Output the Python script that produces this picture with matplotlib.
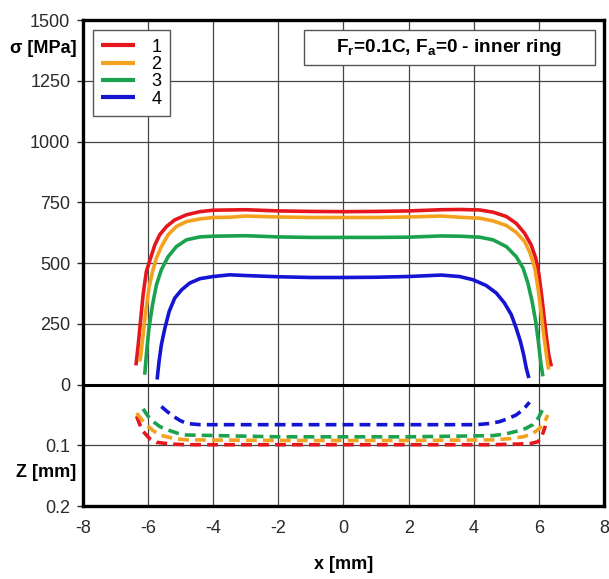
import matplotlib
matplotlib.use("Agg")
import matplotlib.pyplot as plt
from matplotlib.patches import Rectangle
import numpy as np

plt.rcParams['font.family'] = ['Liberation Sans', 'DejaVu Sans']

# stress along the contact, sigma [MPa]
x1 = [-6.37, -6.30, -6.23, -6.15, -6.05, -5.92, -5.79, -5.64, -5.43, -5.18, -4.82, -4.41, -4.0, -3.49,
      -3.0, -2.0, -1.0, 0.0, 1.0, 2.0, 3.0, 3.56, 4.18, 4.59, 5.0, 5.30, 5.56, 5.76, 5.90, 6.00, 6.08,
      6.15, 6.22, 6.30, 6.38]
s1 = [79, 164, 260, 370, 466, 521, 575, 617, 651, 678, 699, 712, 718, 719,
      720, 715, 713, 712, 713, 715, 720, 721, 719, 710, 692, 664, 623, 575, 521, 452, 370,
      288, 206, 123, 75]
x2 = [-6.25, -6.23, -6.15, -6.07, -5.97, -5.86, -5.74, -5.59, -5.38, -5.13, -4.82, -4.41, -4.0, -3.49,
      -3.0, -2.0, -1.0, 0.0, 1.0, 2.0, 3.0, 3.56, 4.18, 4.59, 5.0, 5.30, 5.56, 5.73, 5.87, 5.97, 6.05,
      6.12, 6.20, 6.27, 6.30]
s2 = [95, 110, 205, 301, 397, 466, 521, 568, 617, 651, 671, 682, 688, 689,
      694, 690, 688, 688, 688, 690, 694, 689, 685, 674, 655, 627, 589, 541, 480, 397, 315,
      233, 151, 82, 62]
x3 = [-6.10, -6.05, -5.97, -5.86, -5.74, -5.59, -5.38, -5.13, -4.82, -4.41, -4.0, -3.49,
      -3.0, -2.0, -1.0, 0.0, 1.0, 2.0, 3.0, 3.56, 4.18, 4.59, 5.0, 5.30, 5.51, 5.66, 5.79, 5.90, 5.98,
      6.05, 6.12]
s3 = [41, 123, 233, 329, 411, 473, 527, 568, 596, 608, 611, 612,
      613, 608, 606, 606, 606, 607, 612, 611, 607, 596, 568, 527, 480, 418, 342, 260, 178,
      96, 34]
x4 = [-5.72, -5.66, -5.59, -5.48, -5.35, -5.18, -4.97, -4.72, -4.41, -4.0, -3.49, -3.0,
      -2.0, -1.0, 0.0, 1.0, 2.0, 3.0, 3.56, 3.97, 4.38, 4.69, 4.94, 5.15, 5.30, 5.43, 5.53, 5.61, 5.69]
s4 = [21, 96, 164, 233, 301, 356, 390, 418, 436, 445, 452, 449,
      444, 441, 441, 442, 445, 451, 445, 432, 408, 377, 336, 288, 233, 178, 123, 68, 27]

# depth of the maximum stress, Z [mm]
zx1 = [-6.35, -6.25, -6.15, -5.95, -5.74, -5.3, -4.82, -2.0, 0.0, 2.0, 4.59, 5.3, 5.75, 5.97, 6.1, 6.2]
z1 = [0.052, 0.066, 0.077, 0.089, 0.095, 0.098, 0.099, 0.099, 0.099, 0.099, 0.099, 0.098, 0.097, 0.094, 0.083, 0.068]
zx2 = [-6.35, -6.2, -6.05, -5.84, -5.64, -5.2, -4.82, -2.0, 0.0, 2.0, 4.59, 5.1, 5.51, 5.8, 6.02, 6.17, 6.27]
z2 = [0.047, 0.057, 0.066, 0.076, 0.083, 0.089, 0.091, 0.092, 0.092, 0.092, 0.091, 0.089, 0.086, 0.081, 0.072, 0.062, 0.050]
zx3 = [-6.15, -6.0, -5.84, -5.64, -5.43, -5.1, -4.82, -2.0, 0.0, 2.0, 4.59, 5.0, 5.3, 5.6, 5.81, 5.98, 6.12]
z3 = [0.040, 0.052, 0.061, 0.069, 0.074, 0.080, 0.083, 0.086, 0.086, 0.086, 0.084, 0.081, 0.077, 0.072, 0.066, 0.055, 0.040]
zx4 = [-5.59, -5.42, -5.23, -5.02, -4.82, -4.4, -4.0, -2.0, 0.0, 2.0, 4.08, 4.5, 4.79, 5.05, 5.3, 5.52, 5.71]
z4 = [0.036, 0.044, 0.052, 0.059, 0.064, 0.066, 0.066, 0.066, 0.066, 0.066, 0.066, 0.064, 0.061, 0.056, 0.050, 0.041, 0.029]

labels = ['1', '2', '3', '4']
colors = ['#e5171c', '#f4a21e', '#1ca24f', '#1414d2']

ytick_vals = [1500, 1250, 1000, 750, 500, 250, 0, -250, -500]
ytick_text = ['1500', '1250', '1000', '750', '500', '250', '0', '0.1', '0.2']
xticks = [-8, -6, -4, -2, 0, 2, 4, 6, 8]

# depth axis shares the stress axis: 0.1 mm takes the room of 250 MPa
zscale = 2500.0

fig = plt.figure(figsize=(6.09, 5.79), dpi=100)
ax = fig.add_axes([0.136, 0.126, 0.856, 0.839])

sx = [x1, x2, x3, x4]
sy = [s1, s2, s3, s4]
zx = [zx1, zx2, zx3, zx4]
zz = [z1, z2, z3, z4]
for i in range(4):
    ax.plot(sx[i], sy[i], color=colors[i], lw=2.6, label=labels[i],
            solid_capstyle='butt', solid_joinstyle='round')
    ax.plot(zx[i], -np.array(zz[i]) * zscale, color=colors[i], lw=2.6,
            ls=(0, (3.0, 1.7)), dash_joinstyle='round')

ax.axhline(0, color='black', lw=2.2)
ax.set_xlim(-8, 8)
ax.set_ylim(-500, 1500)
ax.set_xticks(xticks)
ax.set_xticklabels([str(v) for v in xticks])
ax.set_yticks(ytick_vals)
ax.set_yticklabels(ytick_text)
ax.grid(True, color='#444444', lw=0.9)
ax.set_axisbelow(True)
ax.tick_params(axis='x', length=0, pad=10, labelsize=13, colors='#2a2a2a')
ax.tick_params(axis='y', length=4, width=1, pad=5, labelsize=13, colors='#2a2a2a')
for sp in ax.spines.values():
    sp.set_linewidth(2.4)

ax.text(-0.012, 0.942, 'σ [MPa]', transform=ax.transAxes, ha='right', va='center',
        fontsize=13, fontweight='bold')
ax.text(-0.012, 0.07, 'Z [mm]', transform=ax.transAxes, ha='right', va='center',
        fontsize=13, fontweight='bold')
ax.text(0.5, -0.121, 'x [mm]', transform=ax.transAxes, ha='center', va='center',
        fontsize=13, fontweight='bold')

leg = ax.legend(loc='upper left', bbox_to_anchor=(0.019, 0.979), fontsize=13,
                fancybox=False, framealpha=1, edgecolor='#555555',
                handlelength=1.9, handletextpad=0.9, labelspacing=0.02,
                borderpad=0.45, borderaxespad=0)
leg.get_frame().set_linewidth(1.0)
for h in leg.get_lines():
    h.set_linewidth(3)

# load case box
ax.add_patch(Rectangle((0.424, 0.907), 0.5585, 0.072, transform=ax.transAxes,
                       fc='white', ec='#555555', lw=1.0, zorder=5))
ax.text(0.703, 0.943, r'F$_\mathregular{r}$=0.1C, F$_\mathregular{a}$=0 - inner ring',
        transform=ax.transAxes, ha='center', va='center', fontsize=13.7,
        fontweight='bold', zorder=6)

fig.savefig('out.png', dpi=100)
